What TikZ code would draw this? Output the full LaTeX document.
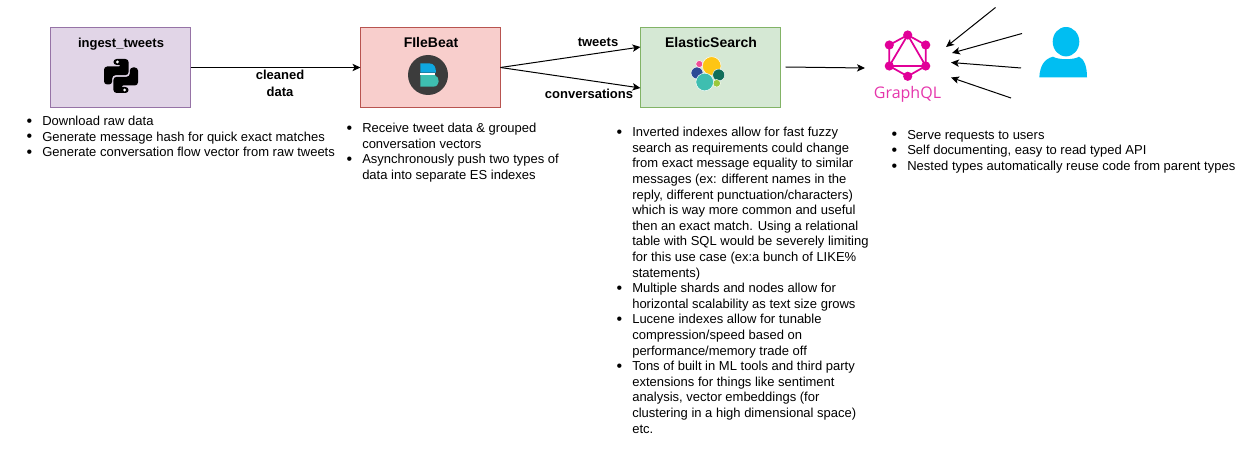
\documentclass[tikz,border=0pt]{standalone}
\usepackage{fontspec}
\setmainfont{Liberation Sans}
\newfontfamily\gqlfont{Open Sans}
\usetikzlibrary{arrows.meta,calc}
\definecolor{gqlpink}{HTML}{E10098}
\definecolor{gqltext}{HTML}{E535AB}
\definecolor{userblue}{HTML}{00BEF2}
\definecolor{purpleline}{HTML}{9673A6}
\definecolor{purplefill}{HTML}{E1D5E7}
\definecolor{redline}{HTML}{B85450}
\definecolor{redfill}{HTML}{F8CECC}
\definecolor{greenline}{HTML}{82B366}
\definecolor{greenfill}{HTML}{D5E8D4}
\definecolor{fbdark}{HTML}{3C3C3C}
\definecolor{fbblue}{HTML}{0FA7E0}
\definecolor{fbteal}{HTML}{3EBEB0}
\definecolor{espink}{HTML}{F04E98}
\definecolor{esnavy}{HTML}{2C4A96}
\definecolor{esyellow}{HTML}{FEC514}
\definecolor{esgreen}{HTML}{116E5A}
\definecolor{eslime}{HTML}{9BC83C}
\definecolor{esteal}{HTML}{3EBEB0}
\tikzset{
 x=0.75pt,y=-0.75pt,
 box/.style n args={2}{draw=#1,fill=#2,line width=0.75pt,outer sep=0pt,minimum width=105pt,minimum height=60pt,inner sep=0pt,anchor=north west},
 boxtitle/.style={font=\fontsize{10.5pt}{12pt}\selectfont\bfseries,inner sep=0pt},
 flow/.style={draw=black,line width=0.75pt,-{Stealth[length=6pt,width=5.5pt,inset=1.5pt]}},
 edgelabel/.style={font=\fontsize{9.75pt}{12.75pt}\selectfont\bfseries,align=center,inner sep=0pt},
 bullets/.style={font=\fontsize{9.75pt}{11.7pt}\selectfont,align=left,inner sep=0pt,anchor=north west},
 esblob/.style={draw=white,line width=0.35pt,fill=#1},
}
\newcommand{\bul}{\llap{\raisebox{-0.4pt}{\fontsize{12pt}{12pt}\selectfont\textbullet}\hspace{7.6pt}}}
\begin{document}
\begin{tikzpicture}
\useasboundingbox (0,0) rectangle (1256,449);
% boxes
\node[box={purpleline}{purplefill}] (ingest) at (50.5,27.5) {};
\node[box={redline}{redfill}] (filebeat) at (360.5,27.5) {};
\node[box={greenline}{greenfill}] (elastic) at (640.5,27.5) {};
\node[boxtitle,font=\fontsize{9.75pt}{12pt}\selectfont\bfseries] (t1) at (121,44) {ingest\_tweets};
\node[boxtitle] (t2) at (431,42) {FIleBeat};
\node[boxtitle] (t3) at (711,42) {ElasticSearch};
% python logo
\begin{scope}[shift={(121,76)}]
 \foreach \r in {0,180}{
  \fill[black,rotate=\r,rounded corners=2.4pt] (-7.6,-11) -- (-7.6,-17) -- (7.6,-17) -- (7.6,-0.8) -- (-8.8,-0.8) -- (-8.8,8.5) -- (-17,8.5) -- (-17,-9.5) -- (1,-9.5) -- (1,-11) -- cycle;
  \fill[white,rotate=\r] (-3.6,-14) circle[radius=1.6];
 }
\end{scope}
% filebeat logo
\fill[fbdark] (428,75) circle[radius=20];
\fill[white] (420.3,72.7) rectangle (435,75.2);
\fill[fbblue] (420.3,63.3) -- (429,63.3) .. controls (434,63.3) and (436,67) .. (436,72.7) -- (420.3,72.7) -- cycle;
\fill[fbteal] (420.3,75.2) -- (435,75.2) .. controls (440,77) and (440.5,86.7) .. (433,86.7) -- (420.3,86.7) -- cycle;
% elastic logo
\filldraw[esblob=esyellow] (711.7,66) circle[radius=9.3];
\filldraw[esblob=esgreen] (718.7,75) circle[radius=6];
\filldraw[esblob=eslime] (716.7,83.3) circle[radius=3.8];
\filldraw[esblob=esnavy] (697,73) circle[radius=6];
\filldraw[esblob=esteal] (704.7,82) circle[radius=8.8];
\filldraw[esblob=espink] (699.3,64) circle[radius=3.5];
% graphql logo
\coordinate (gq1) at (907.7,35);
\coordinate (gq2) at (925.7,45);
\coordinate (gq3) at (925.7,66);
\coordinate (gq4) at (907.7,76.3);
\coordinate (gq5) at (889.3,66);
\coordinate (gq6) at (889.3,45);
\draw[gqlpink,line width=1.3pt] (gq1) -- (gq2) -- (gq3) -- (gq4) -- (gq5) -- (gq6) -- cycle (gq1) -- (gq3) -- (gq5) -- cycle;
\foreach \p in {gq1,gq2,gq3,gq4,gq5,gq6}{\fill[gqlpink] (\p) circle[radius=4.6];}
\node[inner sep=0pt,text=gqltext,font=\gqlfont\fontsize{12pt}{15pt}\selectfont] (gqlname) at (907.5,94) {GraphQL};
% user icon
\fill[userblue] (1066,41.7) ellipse[x radius=13.3,y radius=14.7];
\fill[userblue] (1039.3,77.3) .. controls (1040,66) and (1044,59) .. (1053,56.7) .. controls (1058,60) and (1074,60) .. (1079,56.7) .. controls (1084,59) and (1087,66) .. (1087,77.3) -- cycle;
% free ends
\coordinate (e1) at (640.5,47);
\coordinate (e2) at (640.5,88);
\coordinate (a0) at (785.5,67);
\coordinate (a1) at (865,68);
\coordinate (u1s) at (995.5,7.5);
\coordinate (u1e) at (946,47);
\coordinate (u2s) at (1022,33.5);
\coordinate (u2e) at (952,53);
\coordinate (u3s) at (1021,68);
\coordinate (u3e) at (951,62.5);
\coordinate (u4s) at (1011,98);
\coordinate (u4e) at (951,77.5);
\draw[flow] (ingest.east) -- (filebeat.west);
\draw[flow] (filebeat.east) -- (e1);
\draw[flow] (filebeat.east) -- (e2);
\draw[flow] (a0) -- (a1);
\draw[flow] (u1s) -- (u1e);
\draw[flow] (u2s) -- (u2e);
\draw[flow] (u3s) -- (u3e);
\draw[flow] (u4s) -- (u4e);
% edge labels
\node[edgelabel] (l1) at (280,83.5) {cleaned\\data};
\node[edgelabel] (l2) at (598,42.5) {tweets};
\node[edgelabel] (l3) at (589,93.5) {conversations};
% lists
\node[bullets] (list1) at (42,116) {\bul Download raw data\\
\bul Generate message hash for quick exact matches\\
\bul Generate conversation flow vector from raw tweets};
\node[bullets] (list2) at (362,123) {\bul Receive tweet data \& grouped\\
conversation vectors\\
\bul Asynchronously push two types of\\
data into separate ES indexes};
\node[bullets] (list3) at (632,127) {\bul Inverted indexes allow for fast fuzzy\\
search as requirements could change\\
from exact message equality to similar\\
messages (ex: different names in the\\
reply, different punctuation/characters)\\
which is way more common and useful\\
then an exact match. Using a relational\\
table with SQL would be severely limiting\\
for this use case (ex:a bunch of LIKE\%\\
statements)\\
\bul Multiple shards and nodes allow for\\
horizontal scalability as text size grows\\
\bul Lucene indexes allow for tunable\\
compression/speed based on\\
performance/memory trade off\\
\bul Tons of built in ML tools and third party\\
extensions for things like sentiment\\
analysis, vector embeddings (for\\
clustering in a high dimensional space)\\
etc.};
\node[bullets] (list4) at (907,130) {\bul Serve requests to users\\
\bul Self documenting, easy to read typed API\\
\bul Nested types automatically reuse code from parent types};
\end{tikzpicture}
\end{document}
